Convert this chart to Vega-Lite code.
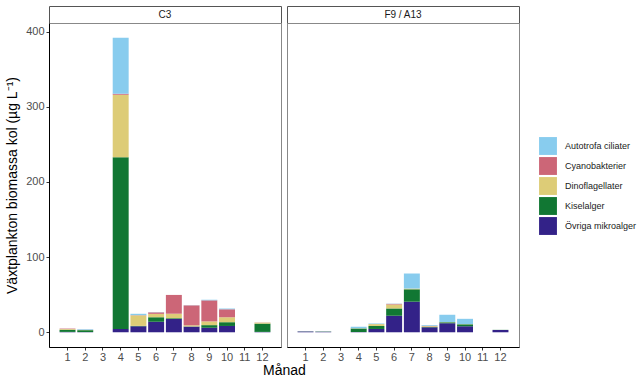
{
  "$schema": "https://vega.github.io/schema/vega-lite/v6.json",
  "padding": {"left": 5, "top": 5, "right": 5, "bottom": 2},
  "background": "white",
  "bounds": "flush",
  "columns": 2,
  "spacing": {"row": 0, "column": 6},
  "config": {
    "font": "Liberation Sans",
    "axis": {"grid": false, "domainColor": "#000000", "domainWidth": 1, "tickColor": "#333333", "tickSize": 3, "labelColor": "#4D4D4D", "labelFontSize": 11, "titleFontSize": 14, "titleFontWeight": "normal", "titleColor": "#000000"},
    "legend": {"symbolType": "square", "symbolSize": 320, "symbolStrokeWidth": 0, "rowPadding": 2, "labelFontSize": 9, "labelOffset": 8, "labelColor": "#1A1A1A"}
  },
  "data": {"values": [
    {"station": "C3", "month": 1, "group": "Övriga mikroalger", "value": 0.5},
    {"station": "C3", "month": 1, "group": "Kiselalger", "value": 2.8},
    {"station": "C3", "month": 1, "group": "Dinoflagellater", "value": 1.0},
    {"station": "C3", "month": 1, "group": "Cyanobakterier", "value": 0.6},
    {"station": "C3", "month": 2, "group": "Övriga mikroalger", "value": 0.3},
    {"station": "C3", "month": 2, "group": "Kiselalger", "value": 2.5},
    {"station": "C3", "month": 2, "group": "Dinoflagellater", "value": 0.3},
    {"station": "C3", "month": 2, "group": "Cyanobakterier", "value": 0.2},
    {"station": "C3", "month": 2, "group": "Autotrofa ciliater", "value": 0.8},
    {"station": "C3", "month": 4, "group": "Övriga mikroalger", "value": 4.5},
    {"station": "C3", "month": 4, "group": "Kiselalger", "value": 228.5},
    {"station": "C3", "month": 4, "group": "Dinoflagellater", "value": 83},
    {"station": "C3", "month": 4, "group": "Cyanobakterier", "value": 1.5},
    {"station": "C3", "month": 4, "group": "Autotrofa ciliater", "value": 74.5},
    {"station": "C3", "month": 5, "group": "Övriga mikroalger", "value": 8},
    {"station": "C3", "month": 5, "group": "Kiselalger", "value": 0.5},
    {"station": "C3", "month": 5, "group": "Dinoflagellater", "value": 14},
    {"station": "C3", "month": 5, "group": "Cyanobakterier", "value": 0.3},
    {"station": "C3", "month": 5, "group": "Autotrofa ciliater", "value": 1.8},
    {"station": "C3", "month": 6, "group": "Övriga mikroalger", "value": 14},
    {"station": "C3", "month": 6, "group": "Kiselalger", "value": 6},
    {"station": "C3", "month": 6, "group": "Dinoflagellater", "value": 4.5},
    {"station": "C3", "month": 6, "group": "Cyanobakterier", "value": 2},
    {"station": "C3", "month": 6, "group": "Autotrofa ciliater", "value": 0.3},
    {"station": "C3", "month": 7, "group": "Övriga mikroalger", "value": 17.7},
    {"station": "C3", "month": 7, "group": "Kiselalger", "value": 1},
    {"station": "C3", "month": 7, "group": "Dinoflagellater", "value": 6},
    {"station": "C3", "month": 7, "group": "Cyanobakterier", "value": 25},
    {"station": "C3", "month": 8, "group": "Övriga mikroalger", "value": 7.5},
    {"station": "C3", "month": 8, "group": "Kiselalger", "value": 0.3},
    {"station": "C3", "month": 8, "group": "Dinoflagellater", "value": 1.5},
    {"station": "C3", "month": 8, "group": "Cyanobakterier", "value": 26.5},
    {"station": "C3", "month": 8, "group": "Autotrofa ciliater", "value": 0.2},
    {"station": "C3", "month": 9, "group": "Övriga mikroalger", "value": 6},
    {"station": "C3", "month": 9, "group": "Kiselalger", "value": 3.5},
    {"station": "C3", "month": 9, "group": "Dinoflagellater", "value": 5},
    {"station": "C3", "month": 9, "group": "Cyanobakterier", "value": 28},
    {"station": "C3", "month": 9, "group": "Autotrofa ciliater", "value": 0.8},
    {"station": "C3", "month": 10, "group": "Övriga mikroalger", "value": 8.4},
    {"station": "C3", "month": 10, "group": "Kiselalger", "value": 5},
    {"station": "C3", "month": 10, "group": "Dinoflagellater", "value": 6.6},
    {"station": "C3", "month": 10, "group": "Cyanobakterier", "value": 10.6},
    {"station": "C3", "month": 10, "group": "Autotrofa ciliater", "value": 1},
    {"station": "C3", "month": 12, "group": "Övriga mikroalger", "value": 0.5},
    {"station": "C3", "month": 12, "group": "Kiselalger", "value": 11},
    {"station": "C3", "month": 12, "group": "Dinoflagellater", "value": 1.3},
    {"station": "C3", "month": 12, "group": "Cyanobakterier", "value": 0.2},
    {"station": "F9 / A13", "month": 1, "group": "Övriga mikroalger", "value": 1},
    {"station": "F9 / A13", "month": 1, "group": "Kiselalger", "value": 0.2},
    {"station": "F9 / A13", "month": 2, "group": "Övriga mikroalger", "value": 0.8},
    {"station": "F9 / A13", "month": 2, "group": "Kiselalger", "value": 0.2},
    {"station": "F9 / A13", "month": 4, "group": "Övriga mikroalger", "value": 0.5},
    {"station": "F9 / A13", "month": 4, "group": "Kiselalger", "value": 4.5},
    {"station": "F9 / A13", "month": 4, "group": "Dinoflagellater", "value": 0.3},
    {"station": "F9 / A13", "month": 4, "group": "Autotrofa ciliater", "value": 2},
    {"station": "F9 / A13", "month": 5, "group": "Övriga mikroalger", "value": 4.4},
    {"station": "F9 / A13", "month": 5, "group": "Kiselalger", "value": 4},
    {"station": "F9 / A13", "month": 5, "group": "Dinoflagellater", "value": 2.5},
    {"station": "F9 / A13", "month": 5, "group": "Autotrofa ciliater", "value": 0.8},
    {"station": "F9 / A13", "month": 6, "group": "Övriga mikroalger", "value": 22},
    {"station": "F9 / A13", "month": 6, "group": "Kiselalger", "value": 9.7},
    {"station": "F9 / A13", "month": 6, "group": "Dinoflagellater", "value": 5.3},
    {"station": "F9 / A13", "month": 6, "group": "Cyanobakterier", "value": 0.8},
    {"station": "F9 / A13", "month": 6, "group": "Autotrofa ciliater", "value": 0.3},
    {"station": "F9 / A13", "month": 7, "group": "Övriga mikroalger", "value": 40.7},
    {"station": "F9 / A13", "month": 7, "group": "Kiselalger", "value": 16.5},
    {"station": "F9 / A13", "month": 7, "group": "Dinoflagellater", "value": 1},
    {"station": "F9 / A13", "month": 7, "group": "Autotrofa ciliater", "value": 20},
    {"station": "F9 / A13", "month": 8, "group": "Övriga mikroalger", "value": 6.6},
    {"station": "F9 / A13", "month": 8, "group": "Kiselalger", "value": 0.5},
    {"station": "F9 / A13", "month": 8, "group": "Dinoflagellater", "value": 1},
    {"station": "F9 / A13", "month": 8, "group": "Cyanobakterier", "value": 0.5},
    {"station": "F9 / A13", "month": 8, "group": "Autotrofa ciliater", "value": 1},
    {"station": "F9 / A13", "month": 9, "group": "Övriga mikroalger", "value": 12},
    {"station": "F9 / A13", "month": 9, "group": "Kiselalger", "value": 1.3},
    {"station": "F9 / A13", "month": 9, "group": "Dinoflagellater", "value": 0.3},
    {"station": "F9 / A13", "month": 9, "group": "Autotrofa ciliater", "value": 9.7},
    {"station": "F9 / A13", "month": 10, "group": "Övriga mikroalger", "value": 8},
    {"station": "F9 / A13", "month": 10, "group": "Kiselalger", "value": 2.6},
    {"station": "F9 / A13", "month": 10, "group": "Dinoflagellater", "value": 0.3},
    {"station": "F9 / A13", "month": 10, "group": "Autotrofa ciliater", "value": 7},
    {"station": "F9 / A13", "month": 12, "group": "Övriga mikroalger", "value": 3},
    {"station": "F9 / A13", "month": 12, "group": "Kiselalger", "value": 0.2}
  ]},
  "concat": [
    {
      "width": 232, "height": 17,
      "view": {"stroke": "#555555", "fill": "white"},
      "data": {"values": [{"label": "C3"}]},
      "mark": {"type": "text", "fontSize": 10, "color": "#1A1A1A"},
      "encoding": {"text": {"field": "label"}}
    },
    {
      "width": 232, "height": 17,
      "view": {"stroke": "#555555", "fill": "white"},
      "data": {"values": [{"label": "F9 / A13"}]},
      "mark": {"type": "text", "fontSize": 10, "color": "#1A1A1A"},
      "encoding": {"text": {"field": "label"}}
    },
    {
      "width": 232, "height": 324,
      "view": {"stroke": "#888888"},
      "transform": [{"filter": "datum.station === 'C3'"}],
      "mark": {"type": "bar"},
      "encoding": {
        "x": {"field": "month", "type": "ordinal", "scale": {"domain": [1,2,3,4,5,6,7,8,9,10,11,12], "paddingInner": 0.1, "paddingOuter": 0.595}, "axis": {"title": "Månad", "labelAngle": 0, "titleX": 235, "titlePadding": 1, "labelPadding": 1}},
        "y": {"field": "value", "type": "quantitative", "aggregate": "sum", "stack": "zero", "scale": {"domain": [-19.6, 411.6], "nice": false, "zero": false}, "axis": {"title": "Växtplankton biomassa kol (µg L⁻¹)", "values": [0,100,200,300,400], "titlePadding": 6, "labelPadding": 2}},
        "color": {"field": "group", "type": "nominal", "scale": {"domain": ["Autotrofa ciliater", "Cyanobakterier", "Dinoflagellater", "Kiselalger", "Övriga mikroalger"], "range": ["#88CCEE", "#CC6677", "#DDCC77", "#117733", "#332288"]}, "legend": {"title": null, "orient": "none", "legendX": 490, "legendY": 131}},
        "order": {"field": "group", "sort": "descending"}
      }
    },
    {
      "width": 232, "height": 324,
      "view": {"stroke": "#888888"},
      "transform": [{"filter": "datum.station === 'F9 / A13'"}],
      "mark": {"type": "bar"},
      "encoding": {
        "x": {"field": "month", "type": "ordinal", "scale": {"domain": [1,2,3,4,5,6,7,8,9,10,11,12], "paddingInner": 0.1, "paddingOuter": 0.595}, "axis": {"title": null, "labelAngle": 0, "labelPadding": 1}},
        "y": {"field": "value", "type": "quantitative", "aggregate": "sum", "stack": "zero", "scale": {"domain": [-19.6, 411.6], "nice": false, "zero": false}, "axis": null},
        "color": {"field": "group", "type": "nominal", "scale": {"domain": ["Autotrofa ciliater", "Cyanobakterier", "Dinoflagellater", "Kiselalger", "Övriga mikroalger"], "range": ["#88CCEE", "#CC6677", "#DDCC77", "#117733", "#332288"]}, "legend": {"title": null, "orient": "none", "legendX": 490, "legendY": 131}},
        "order": {"field": "group", "sort": "descending"}
      }
    }
  ]
}
